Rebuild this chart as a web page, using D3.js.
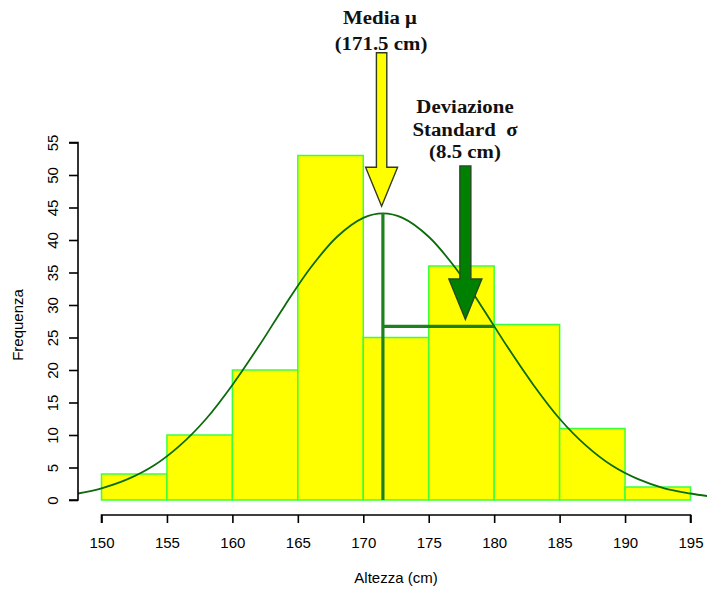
<!DOCTYPE html>
<html>
<head>
<meta charset="utf-8">
<script src="https://cdn.jsdelivr.net/npm/d3@7"></script>
<style>
  html, body { margin: 0; padding: 0; background: #fff; }
  svg { display: block; }
</style>
</head>
<body>
<svg id="chart" width="707" height="593"></svg>
<script>
// ---- data ----
const binStarts = [150, 155, 160, 165, 170, 175, 180, 185, 190];
const binWidth = 5;
const frequencies = [4, 10, 20, 53, 25, 36, 27, 11, 2];
const xTicks = [150, 155, 160, 165, 170, 175, 180, 185, 190, 195];
const yTicks = [0, 5, 10, 15, 20, 25, 30, 35, 40, 45, 50, 55];
// fitted curve
const curveX = [148.2, 150, 152, 154, 156, 158, 160, 162, 164, 166, 168, 170, 171.5, 173, 175, 177, 179, 181, 183, 185, 187, 189, 191, 193, 195, 196.3];
const curveY = [1.0, 1.8, 3.2, 5.3, 8.4, 12.5, 17.7, 23.6, 29.9, 35.8, 40.5, 43.4, 44.1, 43.4, 40.5, 35.8, 29.9, 23.6, 17.7, 12.5, 8.4, 5.3, 3.2, 1.8, 1.0, 0.6];
const meanValue = 171.5;
const sdValue = 8.5;
const peakValue = 44.1;
const sdHeight = 26.7;
const xLabel = "Altezza (cm)";
const yLabel = "Frequenza";

// ---- scales ----
const svg = d3.select("#chart");
const x = d3.scaleLinear().domain([150, 195]).range([101.5, 690.5]);
const y = d3.scaleLinear().domain([0, 55]).range([500, 142.5]);

// ---- bars ----
svg.append("g").selectAll("rect")
  .data(binStarts.map((s, i) => ({ s, f: frequencies[i] })))
  .join("rect")
  .attr("x", d => x(d.s))
  .attr("y", d => y(d.f))
  .attr("width", d => x(d.s + binWidth) - x(d.s))
  .attr("height", d => y(0) - y(d.f))
  .attr("fill", "#ffff00")
  .attr("stroke", "#3cff3c")
  .attr("stroke-width", 1.5);

// ---- curve ----
svg.append("clipPath").attr("id", "clipPlot")
  .append("rect").attr("x", 78).attr("y", 0).attr("width", 707 - 78).attr("height", 593);
const line = d3.line().x(d => x(d[0])).y(d => y(d[1])).curve(d3.curveCatmullRom);
svg.append("path")
  .datum(curveX.map((v, i) => [v, curveY[i]]))
  .attr("clip-path", "url(#clipPlot)")
  .attr("d", line)
  .attr("fill", "none")
  .attr("stroke", "#0b6b0b")
  .attr("stroke-width", 1.8);

// ---- mean and sd lines ----
svg.append("line")
  .attr("x1", x(meanValue)).attr("x2", x(meanValue))
  .attr("y1", y(0)).attr("y2", y(peakValue))
  .attr("stroke", "#1f801f").attr("stroke-width", 3.2);
svg.append("line")
  .attr("x1", x(meanValue)).attr("x2", x(meanValue + sdValue))
  .attr("y1", y(sdHeight)).attr("y2", y(sdHeight))
  .attr("stroke", "#1f801f").attr("stroke-width", 3.2);

// ---- axes ----
const yAxis = d3.axisLeft(y).tickValues(yTicks).tickSize(9).tickPadding(6).tickFormat(d3.format("d"));
const gy = svg.append("g").attr("transform", "translate(78,0)").call(yAxis);
gy.select(".domain").attr("stroke", "#000").attr("stroke-width", 1.6).attr("d", `M-9,${y(0)}H0V${y(55)}H-9`);
gy.selectAll(".tick line").attr("stroke", "#000").attr("stroke-width", 1.6);
gy.selectAll(".tick text")
  .attr("font-family", "'Liberation Sans', Arial, sans-serif")
  .attr("font-size", 15)
  .attr("fill", "#000")
  .attr("text-anchor", "middle")
  .attr("dy", null)
  .attr("x", null)
  .attr("transform", "translate(-20,0) rotate(-90)");

const xAxis = d3.axisBottom(x).tickValues(xTicks).tickSize(8).tickPadding(14).tickFormat(d3.format("d"));
const gx = svg.append("g").attr("transform", "translate(0,515)").call(xAxis);
gx.select(".domain").attr("stroke", "#000").attr("stroke-width", 1.6).attr("d", `M${x(150)},8V0H${x(195)}V8`);
gx.selectAll(".tick line").attr("stroke", "#000").attr("stroke-width", 1.6);
gx.selectAll(".tick text")
  .attr("font-family", "'Liberation Sans', Arial, sans-serif")
  .attr("font-size", 15)
  .attr("fill", "#000");

svg.append("text")
  .attr("x", 396).attr("y", 583)
  .attr("text-anchor", "middle")
  .attr("font-family", "'Liberation Sans', Arial, sans-serif")
  .attr("font-size", 15)
  .text(xLabel);
svg.append("text")
  .attr("transform", "translate(23,325) rotate(-90)")
  .attr("text-anchor", "middle")
  .attr("font-family", "'Liberation Sans', Arial, sans-serif")
  .attr("font-size", 15)
  .text(yLabel);

// ---- arrows ----
function arrow(cx, top, base, tip, shaftHalf, headHalf, fill, stroke) {
  const X = x(cx);
  const pts = [
    [X - shaftHalf, y(top)], [X + shaftHalf, y(top)], [X + shaftHalf, y(base)],
    [X + headHalf, y(base)], [X, y(tip)], [X - headHalf, y(base)], [X - shaftHalf, y(base)]
  ];
  svg.append("path")
    .attr("d", "M" + pts.map(p => p.join(",")).join("L") + "Z")
    .attr("fill", fill).attr("stroke", stroke).attr("stroke-width", 1.4)
    .attr("stroke-linejoin", "miter");
}
arrow(171.4, 68.8, 51.2, 45.2, 5.2, 16, "#ffff00", "#2f3d1a");
arrow(177.8, 51.4, 34.0, 27.8, 5.5, 16.5, "#008000", "#244a24");

// ---- annotation text ----
const serif = "'Liberation Serif', 'Times New Roman', serif";
const ann = [
  { t: "Media \u03bc", x: 380, y: 24 },
  { t: "(171.5 cm)", x: 381, y: 50 },
  { t: "Deviazione", x: 465, y: 113 },
  { t: "Standard  \u03c3", x: 465, y: 136 },
  { t: "(8.5 cm)", x: 465, y: 158 }
];
svg.append("g").selectAll("text").data(ann).join("text")
  .attr("transform", d => `translate(${d.x},${d.y}) scale(1.07,1)`)
  .attr("text-anchor", "middle")
  .attr("font-family", serif)
  .attr("font-weight", "bold")
  .attr("font-size", 19.5)
  .attr("fill", "#111")
  .style("white-space", "pre")
  .text(d => d.t);
</script>
</body>
</html>
